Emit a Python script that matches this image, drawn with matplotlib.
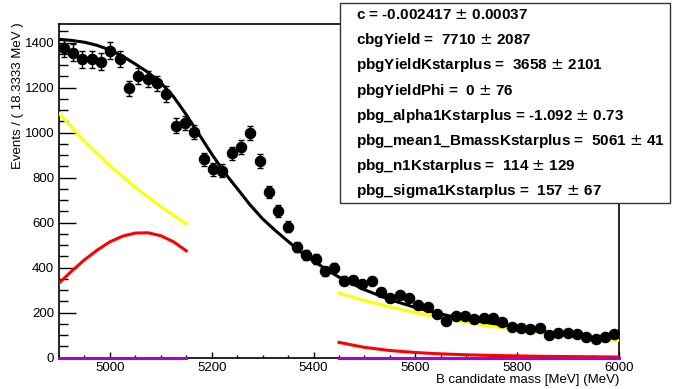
import numpy as np
import matplotlib
matplotlib.use("Agg")
import matplotlib.pyplot as plt
from matplotlib.patches import Rectangle
from matplotlib.ticker import MultipleLocator

plt.rcParams['font.family'] = ['Liberation Sans', 'DejaVu Sans']

# binned data, 60 bins of 18.3333 MeV from 4900 to 6000
x_lo, x_hi, n_bins = 4900, 6000, 60
counts = [1375, 1356, 1326, 1326, 1316, 1364, 1327, 1197, 1253, 1237,
          1219, 1172, 1031, 1044, 1003, 882, 837, 830, 908, 938,
          997, 874, 738, 652, 582, 493, 456, 439, 384, 400,
          343, 346, 326, 340, 293, 264, 279, 264, 232, 224,
          194, 164, 186, 186, 171, 178, 175, 160, 138, 131,
          126, 131, 101, 108, 108, 105, 93, 82, 91, 105]

# total fit curve
tot_x = [4900, 4925, 4950, 4975, 5000, 5025, 5050, 5075, 5100, 5125, 5150, 5175,
         5200, 5225, 5250, 5275, 5300, 5325, 5350, 5375, 5400, 5425, 5450, 5500,
         5550, 5600, 5650, 5700, 5750, 5800, 5850, 5900, 5950, 6000]
tot_y = [1415, 1410, 1402, 1388, 1368, 1340, 1305, 1268, 1222, 1160, 1080, 993,
         905, 823, 752, 680, 617, 565, 517, 470, 430, 392, 358, 302,
         258, 223, 194, 170, 149, 132, 116, 102, 90, 79]

# combinatorial background (yellow), sidebands only
cbg_left_x = [4900, 4950, 5000, 5050, 5100, 5150]
cbg_left_y = [1085, 962, 853, 757, 671, 595]
cbg_right_x = [5450, 5500, 5550, 5600, 5650, 5700, 5750, 5800, 5850, 5900, 5950, 6000]
cbg_right_y = [287, 254, 226, 200, 177, 157, 139, 124, 110, 97, 86, 76]

# partially reconstructed K*+ background (red)
pbg_left_x = [4900, 4925, 4950, 4975, 5000, 5025, 5050, 5075, 5100, 5125, 5150]
pbg_left_y = [331, 385, 435, 478, 515, 540, 554, 555, 542, 515, 475]
pbg_right_x = [5450, 5500, 5550, 5600, 5650, 5700, 5750, 5800, 5850, 5900, 5950, 6000]
pbg_right_y = [68, 46, 32, 23, 17, 13, 10, 8, 6, 5, 4, 3]

# phi background (purple), zero yield
phi_left_x = [4900, 5150]
phi_left_y = [0, 0]
phi_right_x = [5450, 6000]
phi_right_y = [0, 0]

stats_lines = [
    "c = -0.002417 $\\pm$ 0.00037",
    "cbgYield =  7710 $\\pm$ 2087",
    "pbgYieldKstarplus =  3658 $\\pm$ 2101",
    "pbgYieldPhi =  0 $\\pm$ 76",
    "pbg_alpha1Kstarplus = -1.092 $\\pm$ 0.73",
    "pbg_mean1_BmassKstarplus =  5061 $\\pm$ 41",
    "pbg_n1Kstarplus =  114 $\\pm$ 129",
    "pbg_sigma1Kstarplus =  157 $\\pm$ 67",
]

W, H = 675, 389
fig = plt.figure(figsize=(W / 100, H / 100), dpi=100)
ax = fig.add_axes([59 / W, 1 - 357.7 / H, (619 - 59) / W, (357.7 - 24) / H])

edges = np.linspace(x_lo, x_hi, n_bins + 1)
centers = 0.5 * (edges[:-1] + edges[1:])
counts = np.array(counts)
ax.errorbar(centers, counts, yerr=np.sqrt(counts), fmt='o', color='black',
            ms=7.3, elinewidth=1, capsize=2, capthick=1, zorder=5)

ax.plot(tot_x, tot_y, color='black', lw=2.2, zorder=3)
ax.plot(cbg_left_x, cbg_left_y, color='#ffff00', lw=2.2, zorder=4)
ax.plot(cbg_right_x, cbg_right_y, color='#ffff00', lw=2.2, zorder=4)
ax.plot(pbg_left_x, pbg_left_y, color='#ff0000', lw=2.2, zorder=4)
ax.plot(pbg_right_x, pbg_right_y, color='#ff0000', lw=2.2, zorder=4)
ax.plot(phi_left_x, phi_left_y, color='#aa00dd', lw=2.2, zorder=4, clip_on=False)
ax.plot(phi_right_x, phi_right_y, color='#aa00dd', lw=2.2, zorder=4, clip_on=False)

ax.set_xlim(x_lo, x_hi)
ax.set_ylim(0, 1483)
ax.xaxis.set_major_locator(MultipleLocator(200))
ax.xaxis.set_minor_locator(MultipleLocator(50))
ax.yaxis.set_major_locator(MultipleLocator(200))
ax.yaxis.set_minor_locator(MultipleLocator(50))
ax.tick_params(axis='y', which='major', direction='in', length=12, width=1, pad=3.5, labelsize=9.5)
ax.tick_params(axis='y', which='minor', direction='in', length=6.5, width=1)
ax.tick_params(axis='x', which='major', direction='in', length=4.3, width=1, pad=3, labelsize=9.5)
ax.tick_params(axis='x', which='minor', direction='in', length=2.2, width=1)
for s in ax.spines.values():
    s.set_linewidth(1.2)

fig.text(18 / W, 1 - 22 / H, "Events / ( 18.3333 MeV )", rotation=90,
         ha='center', va='top', fontsize=9.5)
fig.text(619 / W, 1 - 380 / H, "B candidate mass [MeV] (MeV)",
         ha='right', va='center', fontsize=9.5)

# fit parameter box
fig.patches.append(Rectangle((340 / W, 1 - 203 / H), (670 - 340) / W, (203 - 3) / H,
                             transform=fig.transFigure, facecolor='white',
                             edgecolor='#333333', lw=1, zorder=10))
for i, line in enumerate(stats_lines):
    fig.text(356 / W, 1 - (15 + 25.2 * i) / H, line, ha='left', va='center',
             fontsize=11, fontweight='bold', zorder=11)

fig.savefig("out.png", dpi=100)
